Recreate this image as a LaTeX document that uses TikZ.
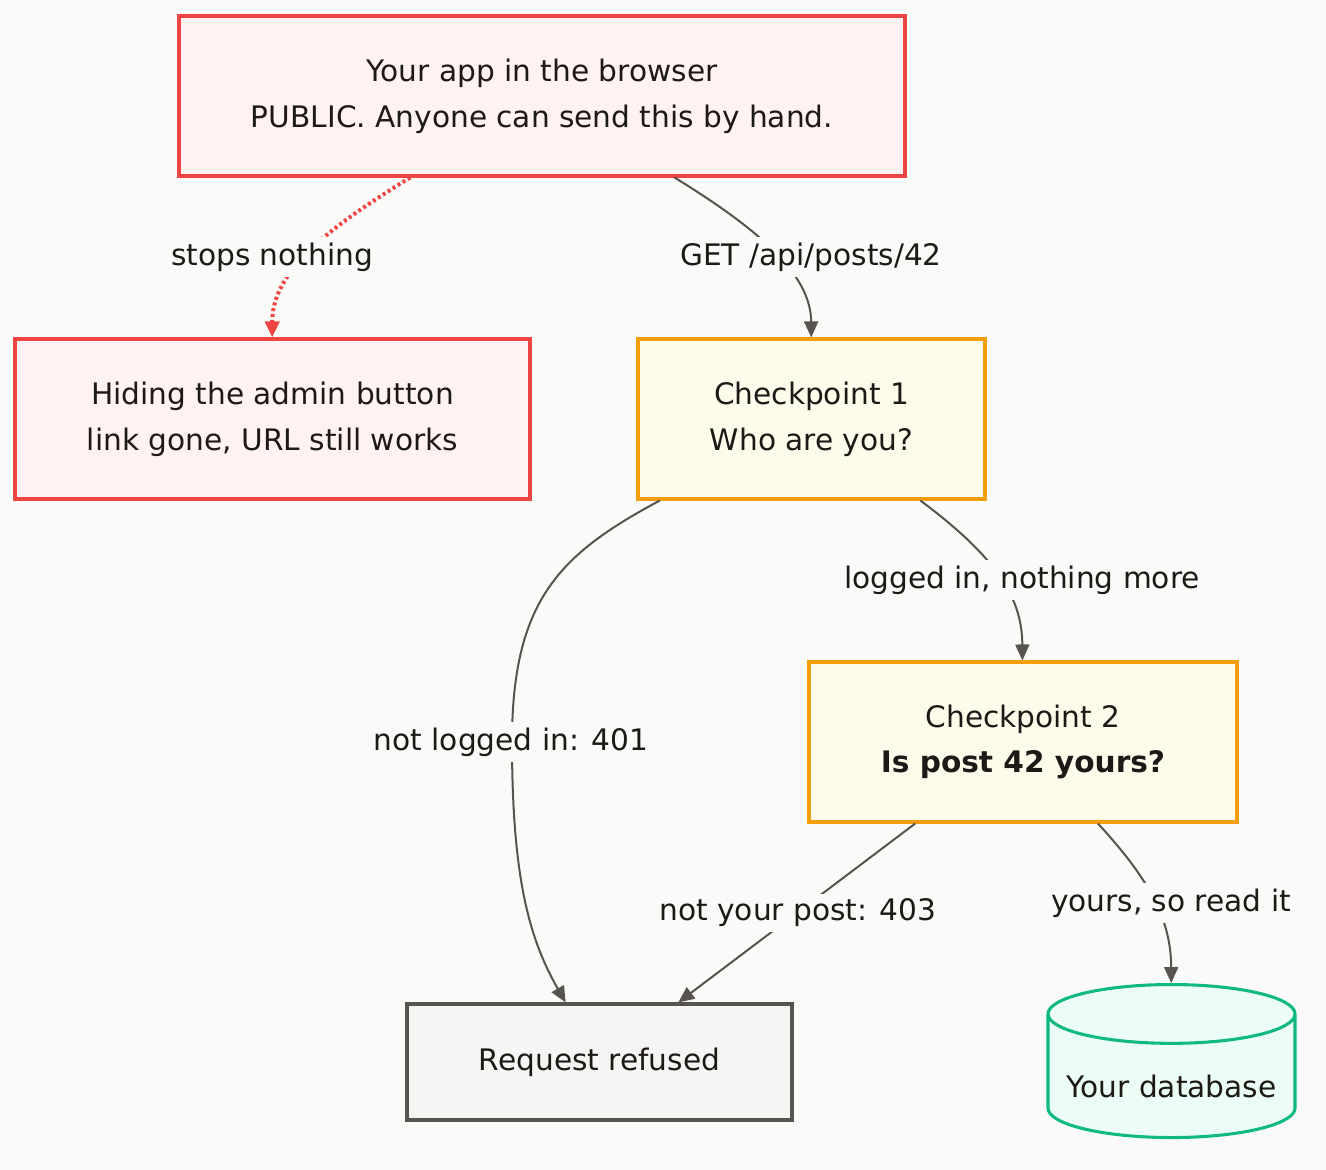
\documentclass[tikz,border=0pt]{standalone}
\usepackage{fontspec}
\setmainfont{DejaVu Sans}
\usetikzlibrary{arrows.meta}
\usetikzlibrary{shapes.geometric}

\definecolor{bgpaper}{HTML}{FAFAF8}
\definecolor{inkdark}{HTML}{1C1917}
\definecolor{edgegray}{HTML}{57534E}
\definecolor{redline}{HTML}{EF4444}
\definecolor{redfill}{HTML}{FEF2F2}
\definecolor{amberline}{HTML}{F59E0B}
\definecolor{amberfill}{HTML}{FFFBEB}
\definecolor{grayline}{HTML}{57534E}
\definecolor{grayfill}{HTML}{F5F5F4}
\definecolor{greenline}{HTML}{10B981}
\definecolor{greenfill}{HTML}{ECFDF5}

\tikzset{
  boxtext/.style={font=\fontsize{22.3}{34.5}\selectfont,text=inkdark},
  box/.style={boxtext,draw,line width=2.3bp,line join=miter,align=center,inner sep=0pt},
  redbox/.style={box,draw=redline,fill=redfill},
  amberbox/.style={box,draw=amberline,fill=amberfill},
  graybox/.style={box,draw=grayline,fill=grayfill},
  edge/.style={draw=edgegray,line width=1.5bp,->},
  edgelabel/.style={boxtext,fill=bgpaper,inner sep=4bp},
}

\begin{document}
\begin{tikzpicture}[x=0.75bp,y=-0.75bp,>={Triangle[length=12bp,width=10.5bp]},line join=bevel]
%%
\fill [bgpaper] (0,0) rectangle (1326,1170);
\useasboundingbox (0,0) rectangle (1326,1170);
%
\node (node_app) at (542,96) [redbox,minimum width=544.5bp,minimum height=120bp] {Your app in the browser\\PUBLIC. Anyone can send this by hand.};
  \node (node_hide) at (272.5,419) [redbox,minimum width=386.25bp,minimum height=120bp] {Hiding the admin button\\link gone, URL still works};
  \node (node_cp1) at (811.5,419) [amberbox,minimum width=260.25bp,minimum height=120bp] {Checkpoint 1\\Who are you?};
  \node (node_cp2) at (1023,742) [amberbox,minimum width=321bp,minimum height=120bp] {Checkpoint 2\\\textbf{Is post 42 yours?}};
  \node (node_refused) at (599.5,1062) [graybox,minimum width=288.75bp,minimum height=87bp] {Request refused};
  \node (node_db) at (1171.5,1076.5) [box,shape=cylinder,shape border rotate=90,aspect=0.28,draw=greenline,fill=greenfill,minimum width=185.25bp,minimum height=114.75bp,text height=32bp,text depth=0bp] {Your database};
%
  \draw [edge,draw=redline,line width=3bp,dash pattern=on 2.2bp off 2.2bp] (node_app) ..controls (330,227) and (272,270) .. (node_hide);
  \draw [edge] (node_app) ..controls (760,230) and (811,275) .. (node_cp1);
  \draw [edge] (node_cp1) ..controls (560,554) and (512,600) .. (512,742) ..controls (512,880) and (530,940) .. (node_refused);
  \draw [edge] (node_cp1) ..controls (1000,560) and (1022,600) .. (node_cp2);
  \draw [edge] (node_cp2) -- (node_refused);
  \draw [edge] (node_cp2) ..controls (1150,880) and (1171,920) .. (node_db);
%
  \node (lbl_stops) at (272,257) [edgelabel] {stops nothing};
  \node (lbl_get) at (811,257) [edgelabel] {GET /api/posts/42};
  \node (lbl_401) at (511,742) [edgelabel] {not logged in: 401};
  \node (lbl_logged) at (1022,580) [edgelabel] {logged in, nothing more};
  \node (lbl_403) at (798,913) [edgelabel] {not your post: 403};
  \node (lbl_yours) at (1171,903) [edgelabel] {yours, so read it};
%
\end{tikzpicture}
\end{document}
